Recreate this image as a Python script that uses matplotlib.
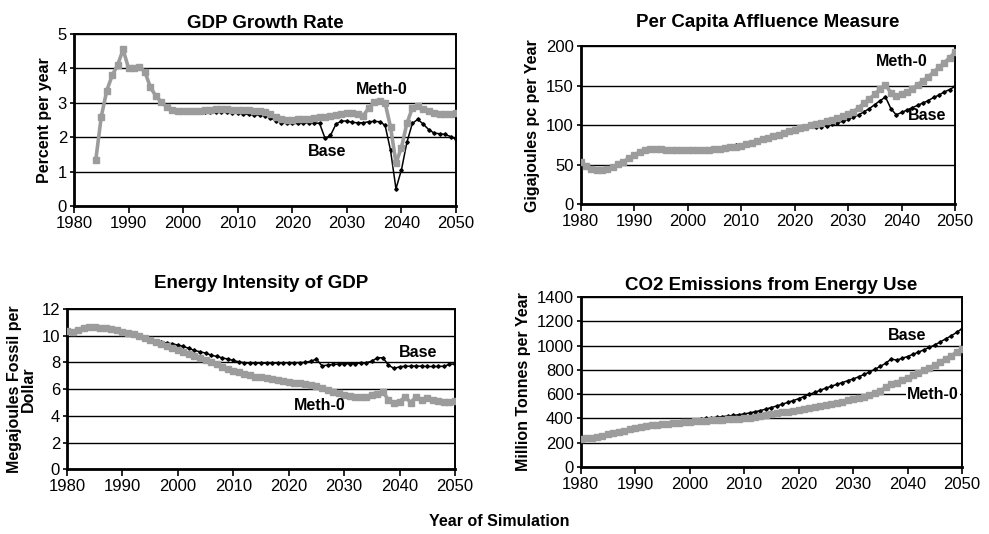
import matplotlib
matplotlib.use("Agg")
import matplotlib.pyplot as plt
import numpy as np

plt.rcParams['font.family'] = ['Liberation Sans Narrow', 'Liberation Sans', 'DejaVu Sans']

years = list(range(1980, 2051))
gdp_years = list(range(1984, 2051))

gdp_meth = [1.35, 2.6, 3.35, 3.8, 4.1, 4.55, 4.0, 4.0, 4.05, 3.9,
            3.45, 3.2, 3.02, 2.88, 2.8, 2.76, 2.75, 2.75, 2.75, 2.76,
            2.78, 2.8, 2.82, 2.83, 2.82, 2.8, 2.8, 2.79, 2.78, 2.77,
            2.75, 2.72, 2.66, 2.58, 2.52, 2.5, 2.5, 2.52, 2.53, 2.54,
            2.56, 2.58, 2.6, 2.62, 2.64, 2.68, 2.7, 2.7, 2.66, 2.62,
            2.85, 3.02, 3.05, 3.0, 2.3, 1.25, 1.7, 2.4, 2.85, 2.92,
            2.82, 2.75, 2.7, 2.67, 2.67, 2.68, 2.7]
gdp_base = [1.35, 2.6, 3.35, 3.8, 4.1, 4.55, 4.0, 4.0, 4.05, 3.9,
            3.45, 3.2, 3.02, 2.88, 2.8, 2.76, 2.75, 2.75, 2.75, 2.74,
            2.72, 2.72, 2.73, 2.73, 2.72, 2.7, 2.7, 2.68, 2.66, 2.65,
            2.64, 2.62, 2.56, 2.48, 2.42, 2.4, 2.4, 2.4, 2.41, 2.42,
            2.42, 2.4, 1.97, 2.05, 2.38, 2.47, 2.47, 2.43, 2.42, 2.42,
            2.45, 2.46, 2.45, 2.35, 1.62, 0.5, 1.05, 1.85, 2.4, 2.52,
            2.38, 2.22, 2.12, 2.1, 2.08, 2.02, 1.95]

aff_meth = [54, 49, 45, 43.5, 43.5, 45, 47.5, 50.5, 54, 58,
            62, 66, 68.5, 70, 70, 69.5, 69, 68.5, 68, 68,
            68, 68, 68, 68.5, 69, 69.5, 70, 71, 72, 73,
            74, 76, 78, 80, 82, 84, 86, 88, 90, 92,
            94, 96, 98, 100, 101.5, 103, 105, 107, 109, 111,
            113.5, 117, 122, 128, 133, 139, 146, 151, 141, 137,
            139, 142, 146, 151, 156, 161, 167, 173, 179, 185,
            192]
aff_base = [54, 49, 45, 43.5, 43.5, 45, 47.5, 50.5, 54, 58,
            62, 66, 68.5, 70, 70, 69.5, 69, 68.5, 68, 68,
            68, 68.5, 69, 69.5, 70, 70.5, 71.5, 72.5, 73.5, 74.5,
            75.5, 77, 79, 81, 83, 85, 87, 89, 91, 92.5,
            94.5, 96, 97.5, 98.5, 98, 98, 99, 101, 103, 105,
            107.5, 110, 113, 117, 121, 126, 131, 135.5, 121, 113,
            116, 119, 122, 125, 128, 131, 135, 138, 142, 145,
            149]

ei_meth = [10.35, 10.3, 10.45, 10.6, 10.65, 10.65, 10.6, 10.55, 10.5, 10.4,
           10.3, 10.2, 10.1, 9.95, 9.8, 9.65, 9.5, 9.4, 9.25, 9.1,
           8.95, 8.8, 8.65, 8.5, 8.35, 8.2, 8.0, 7.85, 7.65, 7.5,
           7.35, 7.25, 7.15, 7.05, 6.95, 6.9, 6.85, 6.8, 6.7, 6.65,
           6.57, 6.5, 6.45, 6.4, 6.3, 6.25, 6.1, 5.95, 5.8, 5.7,
           5.6, 5.5, 5.45, 5.4, 5.45, 5.55, 5.65, 5.8, 5.2, 4.95,
           5.05, 5.45, 5.0, 5.45, 5.2, 5.35, 5.2, 5.1, 5.05, 5.05,
           5.15]
ei_base = [10.35, 10.3, 10.45, 10.6, 10.65, 10.65, 10.6, 10.55, 10.5, 10.4,
           10.3, 10.2, 10.1, 9.95, 9.8, 9.7, 9.6, 9.5, 9.45, 9.4,
           9.3, 9.2, 9.05, 8.9, 8.8, 8.7, 8.55, 8.45, 8.35, 8.25,
           8.15, 8.05, 7.97, 7.95, 7.95, 7.95, 7.95, 7.95, 7.96, 7.97,
           7.98, 7.98, 7.99, 8.0, 8.1, 8.25, 7.75, 7.8, 7.85, 7.88,
           7.9, 7.9, 7.92, 7.95, 7.98, 8.1, 8.35, 8.35, 7.8, 7.55,
           7.68, 7.72, 7.72, 7.73, 7.72, 7.7, 7.7, 7.7, 7.72, 7.85,
           7.9]

co2_meth = [230, 235, 240, 248, 258, 268, 280, 290, 300, 310,
            320, 328, 335, 342, 348, 353, 358, 362, 366, 369,
            372, 375, 378, 381, 384, 387, 390, 393, 396, 399,
            402, 406, 411, 418, 425, 433, 441, 449, 457, 465,
            473, 481, 489, 497, 505, 513, 521, 530, 539, 548,
            557, 567, 578, 592, 610, 630, 655, 680, 695, 715,
            735, 755, 775, 795, 815, 840, 865, 890, 915, 945,
            975]
co2_base = [230, 235, 240, 248, 258, 268, 280, 290, 300, 310,
            320, 328, 335, 342, 348, 353, 358, 365, 372, 378,
            385, 390, 395, 400, 405, 410, 415, 420, 425, 430,
            437, 445, 455, 465, 477, 490, 503, 517, 532, 547,
            562, 580, 598, 615, 632, 650, 665, 680, 695, 710,
            725, 742, 762, 782, 805, 828, 855, 890, 880, 895,
            910, 928, 946, 965, 985, 1005, 1030, 1055, 1080, 1108,
            1140]

xticks = [1980, 1990, 2000, 2010, 2020, 2030, 2040, 2050]

W, H = 989, 534
fig = plt.figure(figsize=(W / 100, H / 100), dpi=100)


def make_axes(l, r, t, b):
    return fig.add_axes([l / W, 1 - b / H, (r - l) / W, (b - t) / H])


GRAY = '#9c9c9c'
TFS = 13.5
TICKFS = 12
LABFS = 11.5


def style(ax, ylim, yticks, title, title_pad, ylabel):
    ax.set_xlim(1980, 2050)
    ax.set_ylim(*ylim)
    ax.set_xticks(xticks)
    ax.set_yticks(yticks)
    ax.set_axisbelow(True)
    ax.yaxis.grid(True, color='black', linewidth=1.0)
    for s in ax.spines.values():
        s.set_color('black')
        s.set_linewidth(1.4)
    ax.spines['left'].set_linewidth(2.0)
    ax.spines['bottom'].set_linewidth(2.0)
    ax.tick_params(axis='x', direction='out', length=5, width=1.2,
                   labelsize=TICKFS, pad=2)
    ax.tick_params(axis='y', direction='out', length=3, width=1.2,
                   labelsize=TICKFS, pad=2)
    ax.set_title(title, fontsize=TFS, fontweight='bold', pad=title_pad)
    ax.set_ylabel(ylabel, fontsize=LABFS, fontweight='bold', labelpad=4)


def plot_pair(ax, x, meth, base):
    ax.plot(x, base, color='black', lw=1.1, marker='D', ms=1.8,
            mec='black', mfc='black', zorder=3)
    ax.plot(x, meth, color=GRAY, lw=2.6, marker='s', ms=4.2,
            mec=GRAY, mfc=GRAY, zorder=4)


# Panel 1
ax1 = make_axes(74, 456, 34, 206)
plot_pair(ax1, gdp_years, gdp_meth, gdp_base)
style(ax1, (0, 5), [0, 1, 2, 3, 4, 5], 'GDP Growth Rate', 4, 'Percent per year')
ax1.text(2036.4, 3.4, 'Meth-0', fontsize=LABFS, fontweight='bold',
         ha='center', va='center', zorder=5)
ax1.text(2026.3, 1.58, 'Base', fontsize=LABFS, fontweight='bold',
         ha='center', va='center', zorder=5)

# Panel 2
ax2 = make_axes(580.7, 955, 46, 204.3)
plot_pair(ax2, years, aff_meth, aff_base)
style(ax2, (0, 200), [0, 50, 100, 150, 200], 'Per Capita Affluence Measure', 14,
      'Gigajoules pc per Year')
ax2.text(2040.0, 181, 'Meth-0', fontsize=LABFS, fontweight='bold',
         ha='center', va='center', zorder=5)
ax2.text(2044.7, 112, 'Base', fontsize=LABFS, fontweight='bold',
         ha='center', va='center', zorder=5)

# Panel 3
ax3 = make_axes(67, 455, 309, 469.4)
plot_pair(ax3, years, ei_meth, ei_base)
style(ax3, (0, 12), [0, 2, 4, 6, 8, 10, 12], 'Energy Intensity of GDP', 15,
      'Megajoules Fossil per\nDollar')
ax3.yaxis.label.set_linespacing(0.9)
ax3.text(2043.4, 8.74, 'Base', fontsize=LABFS, fontweight='bold',
         ha='center', va='center', zorder=5)
ax3.text(2025.6, 4.77, 'Meth-0', fontsize=LABFS, fontweight='bold',
         ha='center', va='center', zorder=5)

# Panel 4
ax4 = make_axes(580.7, 962, 297, 467)
plot_pair(ax4, years, co2_meth, co2_base)
style(ax4, (0, 1400), [0, 200, 400, 600, 800, 1000, 1200, 1400],
      'CO2 Emissions from Energy Use', 5, 'Million Tonnes per Year')
ax4.text(2040.0, 1087, 'Base', fontsize=LABFS, fontweight='bold',
         ha='center', va='center', zorder=5)
ax4.text(2044.7, 593, 'Meth-0', fontsize=LABFS, fontweight='bold',
         ha='center', va='center', zorder=5,
         bbox=dict(facecolor='white', edgecolor='none', pad=1))

fig.text(499 / W, 1 - 522 / H, 'Year of Simulation', fontsize=LABFS,
         fontweight='bold', ha='center', va='center')

fig.savefig('out.png', dpi=100, facecolor='white')
